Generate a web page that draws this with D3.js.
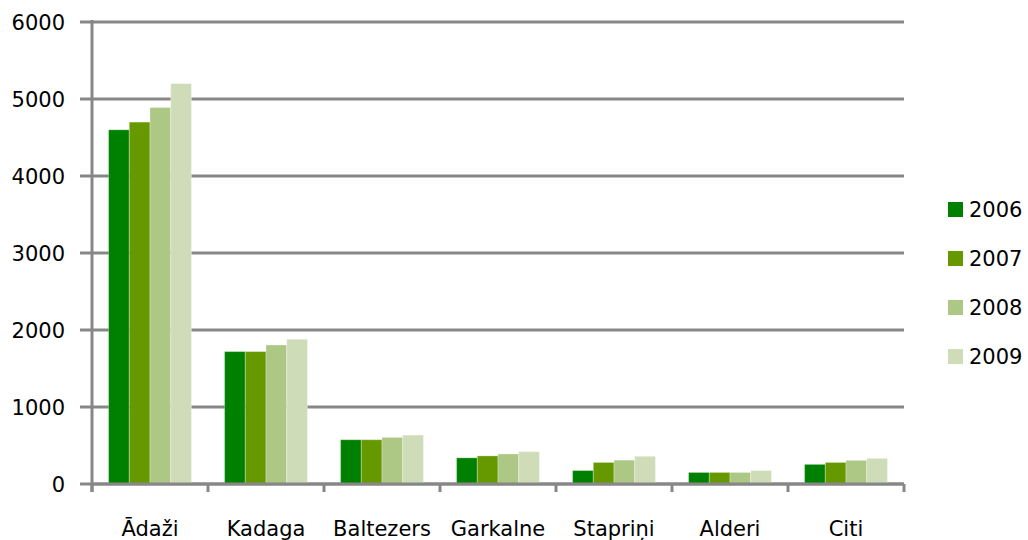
<!DOCTYPE html>
<html>
<head>
<meta charset="utf-8">
<script src="https://cdn.jsdelivr.net/npm/d3@7"></script>
<style>
  body { margin: 0; background: #fff; }
  text { font-family: "DejaVu Sans", sans-serif; fill: #000; }
</style>
</head>
<body>
<script>
// chart data
var categories = ["Ādaži", "Kadaga", "Baltezers", "Garkalne", "Stapriņi", "Alderi", "Citi"];
var years = ["2006", "2007", "2008", "2009"];
var v2006 = [4600, 1720, 575, 340, 175, 150, 255];
var v2007 = [4700, 1720, 575, 365, 280, 150, 280];
var v2008 = [4890, 1805, 605, 390, 310, 150, 307];
var v2009 = [5200, 1880, 635, 420, 360, 175, 333];
var yTicks = [0, 1000, 2000, 3000, 4000, 5000, 6000];
var colors = ["#008000", "#669900", "#adc785", "#cfdcb8"];

var series = [v2006, v2007, v2008, v2009];

var W = 1028, H = 540;
var plotL = 92, plotR = 904, plotT = 22, plotB = 484;
var gridColor = "#878787";

var svg = d3.select("body").append("svg")
    .attr("width", W)
    .attr("height", H);

var x = d3.scaleBand().domain(categories).range([plotL, plotR]).padding(0);
var xi = d3.scaleBand().domain(years).range([0, x.bandwidth()])
    .paddingInner(0).paddingOuter(0.8);
var y = d3.scaleLinear().domain([0, 6000]).range([plotB, plotT]);

// gridlines + left tick stubs
svg.append("g").selectAll("line")
    .data(yTicks)
    .enter().append("line")
    .attr("x1", plotL - 12)
    .attr("x2", plotR)
    .attr("y1", function(d) { return y(d); })
    .attr("y2", function(d) { return y(d); })
    .style("stroke", gridColor)
    .style("stroke-width", 3);

// y labels
svg.append("g").selectAll("text")
    .data(yTicks)
    .enter().append("text")
    .attr("x", 65)
    .attr("y", function(d) { return y(d); })
    .attr("dy", "0.38em")
    .attr("text-anchor", "end")
    .style("font-size", "21px")
    .text(function(d) { return d; });

// bars
var groups = svg.append("g").selectAll("g")
    .data(categories)
    .enter().append("g")
    .attr("transform", function(d) { return "translate(" + x(d) + ",0)"; });

groups.selectAll("rect")
    .data(function(d, i) {
      return years.map(function(yr, j) { return { year: yr, value: series[j][i], c: colors[j] }; });
    })
    .enter().append("rect")
    .attr("x", function(d) { return xi(d.year); })
    .attr("width", xi.bandwidth())
    .attr("y", function(d) { return y(d.value); })
    .attr("height", function(d) { return plotB - y(d.value); })
    .attr("fill", function(d) { return d.c; })
    .style("stroke", "#ffffff")
    .style("stroke-opacity", 0.3)
    .style("stroke-width", 1);

// y axis line
svg.append("line")
    .attr("x1", plotL).attr("x2", plotL)
    .attr("y1", plotT - 2).attr("y2", plotB + 8)
    .style("stroke", gridColor)
    .style("stroke-width", 3);

// x axis line and ticks
svg.append("line")
    .attr("x1", plotL).attr("x2", plotR)
    .attr("y1", plotB).attr("y2", plotB)
    .style("stroke", gridColor)
    .style("stroke-width", 3);

var tickPos = categories.map(function(c) { return x(c); }).concat([plotR]);
svg.append("g").selectAll("line")
    .data(tickPos)
    .enter().append("line")
    .attr("x1", function(d) { return d; })
    .attr("x2", function(d) { return d; })
    .attr("y1", plotB)
    .attr("y2", plotB + 8)
    .style("stroke", gridColor)
    .style("stroke-width", 3);

// x labels
svg.append("g").selectAll("text")
    .data(categories)
    .enter().append("text")
    .attr("x", function(d) { return x(d) + x.bandwidth() / 2; })
    .attr("y", 536)
    .attr("text-anchor", "middle")
    .style("font-size", "21px")
    .text(function(d) { return d; });

// legend
var legend = svg.append("g").selectAll("g")
    .data(years)
    .enter().append("g")
    .attr("transform", function(d, i) { return "translate(948," + (202 + i * 49) + ")"; });

legend.append("rect")
    .attr("width", 15)
    .attr("height", 15)
    .attr("fill", function(d, i) { return colors[i]; });

legend.append("text")
    .attr("x", 21)
    .attr("y", 15)
    .style("font-size", "21px")
    .text(function(d) { return d; });
</script>
</body>
</html>
